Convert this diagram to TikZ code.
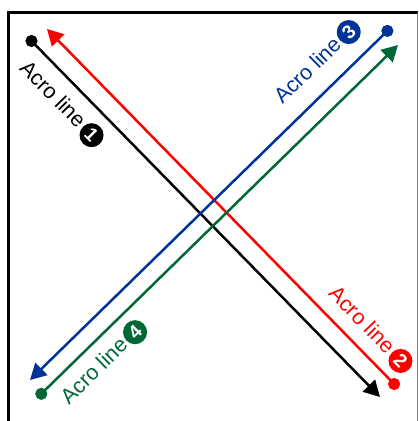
\documentclass[tikz,border=0pt]{standalone}
\usepackage{fontspec}
\setmainfont{Liberation Sans}
\usetikzlibrary{arrows.meta}
\definecolor{acroblack}{RGB}{0,0,0}
\definecolor{acrored}{RGB}{255,0,0}
\definecolor{acroblue}{RGB}{0,51,153}
\definecolor{acrogreen}{RGB}{0,104,55}
\newcommand{\acronum}[2]{\tikz[baseline={([yshift=-6pt]n.center)}]\node[circle,fill=#1,text=white,inner sep=0pt,minimum size=24pt,font=\fontsize{19}{19}\selectfont\bfseries](n){#2};}
\begin{document}
\begin{tikzpicture}[x=1pt,y=-1pt,
  acroline/.style={line width=2.5pt},
  ends/.style={{Circle[length=12pt]}-{Triangle[length=16pt,width=17pt]}},
  lbl/.style={sloped,font=\fontsize{21.5}{21.5}\selectfont,inner sep=1.5pt}]
\useasboundingbox (0,0) rectangle (419,421);
% frame
\coordinate (fbl) at (8.5,421);
\coordinate (ftl) at (8.5,12.5);
\coordinate (ftr) at (417.5,12.5);
\coordinate (fbr) at (417.5,421);
\draw[line width=3pt] (fbl) -- (ftl) -- (ftr);
\draw[line width=0.8pt,gray] (ftr) -- (fbr);
% end points
\coordinate (k1) at (27.3,36.7); \coordinate (k2) at (380,397);
\coordinate (r1) at (47,29);     \coordinate (r2) at (398.3,388.3);
\coordinate (b1) at (391.7,26.7);\coordinate (b2) at (30,380);
\coordinate (g1) at (37,398);    \coordinate (g2) at (398,45);
% lines
\draw[acroline,acroblack,ends] (k1) -- (k2)
  node[lbl,pos=0.1433,below=9.3pt,text=acroblack] {Acro line\hspace{2.5pt}\acronum{acroblack}{1}};
\draw[acroline,acrored,ends] (r2) -- (r1)
  node[lbl,pos=0.1216,above=7pt,text=acrored] {Acro line\hspace{2.5pt}\acronum{acrored}{2}};
\draw[acroline,acroblue,ends] (b1) -- (b2)
  node[lbl,pos=0.1534,above=12.5pt,text=acroblue] {Acro line\hspace{2.5pt}\acronum{acroblue}{3}};
\draw[acroline,acrogreen,ends] (g1) -- (g2)
  node[lbl,pos=0.1447,below=7.8pt,text=acrogreen] {Acro line\hspace{2.5pt}\acronum{acrogreen}{4}};
\end{tikzpicture}
\end{document}
